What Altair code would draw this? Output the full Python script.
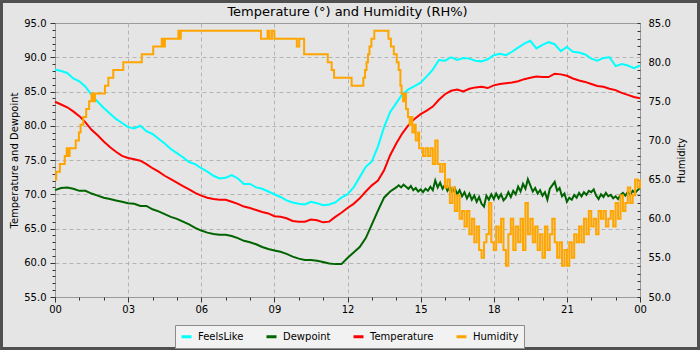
import altair as alt
import numpy as np
import pandas as pd

SERIES = ["FeelsLike", "Dewpoint", "Temperature", "Humidity"]
COLORS = ["#00ffff", "#006400", "#ff0000", "#ffa500"]
TITLE = "Temperature (°) and Humidity (RH%)"

# 15-minute readings from 00:00 to the following 00:00
TEMPERATURE = [
    83.5, 83.1, 82.7, 82.1, 81.4, 80.5, 79.4, 78.6, 77.7, 76.9, 76.2, 75.6,
    75.3, 75.1, 74.9, 74.4, 73.8, 73.3, 72.7, 72.2, 71.7, 71.2, 70.7, 70.2,
    69.8, 69.5, 69.3, 69.2, 69.2, 68.9, 68.6, 68.2, 68.0, 67.7, 67.4, 67.2,
    66.8, 66.7, 66.5, 66.1, 66.0, 66.0, 66.3, 66.2, 65.9, 66.0, 66.7, 67.3,
    68.0, 68.6, 69.4, 70.4, 71.3, 72.0, 73.5, 75.7, 77.4, 78.9, 80.1, 81.0,
    81.7, 82.2, 82.8, 83.8, 84.6, 85.1, 85.3, 85.0, 85.4, 85.6, 85.7, 85.5,
    85.9, 86.1, 86.2, 86.3, 86.5, 86.8, 87.0, 87.2, 87.1, 87.1, 87.6, 87.5,
    87.3, 86.9, 86.6, 86.4, 86.1, 85.8, 85.7, 85.4, 85.2, 84.8, 84.5, 84.2,
    84.0,
]
FEELS_LIKE = [
    88.2, 88.0, 87.7, 86.9, 86.5, 85.7, 84.5, 83.5, 82.6, 81.8, 81.0, 80.4,
    79.8, 79.6, 80.0, 79.2, 78.8, 78.1, 77.4, 76.6, 76.0, 75.4, 74.7, 74.4,
    73.8, 73.3, 72.7, 72.3, 72.4, 72.8, 72.3, 71.5, 71.5, 71.0, 70.8, 70.4,
    70.0, 69.6, 69.1, 68.8, 68.6, 68.5, 68.9, 68.7, 68.4, 68.5, 68.8, 69.5,
    70.0, 71.0, 72.5, 74.0, 74.8, 77.0, 79.8, 82.0, 83.3, 84.6, 85.3, 85.8,
    86.3, 87.2, 88.2, 89.6, 89.5, 90.0, 89.6, 89.9, 89.8, 89.5, 89.4, 89.7,
    90.3, 90.5, 90.3, 90.8, 91.4, 92.0, 92.4, 91.3, 91.8, 92.2, 91.9, 90.9,
    91.5, 90.8, 90.7, 90.4, 89.8, 89.5, 89.9, 90.0, 88.7, 89.0, 88.8, 88.4,
    88.8,
]
# dewpoint: 15-minute readings 00:00-14:00, then 6-minute readings 14:06-24:00
DEWPOINT_EARLY = [
    70.6, 70.9, 71.0, 70.8, 70.5, 70.5, 70.1, 69.8, 69.5, 69.3, 69.1, 68.9,
    68.7, 68.6, 68.3, 68.3, 67.8, 67.5, 67.1, 66.7, 66.4, 66.0, 65.6, 65.1,
    64.7, 64.4, 64.2, 64.1, 64.1, 63.9, 63.6, 63.2, 63.0, 62.7, 62.3, 62.0,
    61.8, 61.6, 61.3, 60.9, 60.6, 60.4, 60.4, 60.3, 60.1, 59.9, 59.8, 59.8,
    60.7, 61.5, 62.3, 63.6, 65.6, 67.6, 69.5, 70.4, 71.0,
]
DEWPOINT_LATE = [
    71.3, 71.0, 71.4, 71.1, 70.8, 71.2, 70.6, 70.9, 70.4, 70.7,
    70.3, 70.8, 70.5, 71.1, 70.6, 72.0, 71.0, 71.7, 70.8, 71.4,
    70.5, 71.1, 70.3, 70.9, 70.0, 70.6, 69.7, 70.3, 69.4, 70.1,
    69.2, 69.8, 68.9, 69.6, 68.6, 68.2, 69.8, 69.2, 70.0, 69.3,
    70.1, 69.4, 70.0, 69.1, 69.5, 70.3, 69.6, 70.5, 70.0, 71.1,
    70.4, 71.5, 70.8, 72.2, 71.3, 70.4, 70.9, 70.1, 70.6, 69.8,
    70.3, 69.2, 70.8, 71.3, 71.8, 70.5, 70.9, 69.7, 70.1, 68.9,
    69.5, 69.2, 69.9, 69.5, 70.2, 69.7, 70.3, 69.9, 70.5, 70.3,
    70.7, 69.8, 69.3, 70.0, 69.6, 70.2, 69.7, 69.9, 69.4, 69.7,
    69.3, 69.9, 70.2, 69.8, 70.3, 69.9, 70.5, 70.2, 70.6, 70.9,
]
# humidity: the hours at which the reading changed, up to 15:00
HUMIDITY_CHANGE_HOURS = [
    0.00, 0.05, 0.20, 0.40, 0.48, 0.55, 0.60, 0.85, 0.98, 1.05, 1.16, 1.28,
    1.40, 1.50, 1.58, 1.64, 2.05, 2.19, 2.39, 2.80, 3.56, 4.03, 4.38, 4.43,
    4.51, 5.06, 5.10, 5.16, 8.45, 8.72, 8.80, 8.90, 9.00, 9.92, 10.02, 10.22,
    11.19, 11.35, 11.45, 12.17, 12.65, 12.72, 12.78, 12.84, 12.90, 12.98, 13.10, 13.68,
    13.78, 13.90, 14.02, 14.10, 14.17, 14.22, 14.28, 14.35, 14.40, 14.48, 14.55, 14.62,
    14.66, 14.75, 14.80, 14.90, 14.94,
]
HUMIDITY_CHANGE_VALUES = [
    65, 66, 67, 68, 69, 68, 69, 70, 71, 72, 73, 74,
    75, 76, 75, 76, 77, 78, 79, 80, 81, 82, 83, 82,
    83, 84, 83, 84, 83, 84, 83, 84, 83, 82, 83, 81,
    80, 79, 78, 77, 78, 79, 80, 81, 82, 83, 84, 83,
    82, 81, 80, 79, 77, 76, 75, 76, 74, 73, 72, 73,
    71, 72, 70, 71, 69,
]
# humidity: 6-minute readings 15:00-24:00
HUMIDITY_LATE = [
    69, 68, 69, 68, 69, 67, 70, 67, 66, 67,
    64, 65, 62, 64, 61, 63, 60, 61, 59, 61,
    58, 60, 57, 59, 56, 55, 57, 58, 62, 57,
    56, 59, 57, 60, 56, 54, 58, 60, 56, 59,
    57, 60, 56, 62, 58, 60, 57, 59, 56, 58,
    55, 59, 56, 58, 60, 57, 55, 57, 54, 56,
    54, 57, 55, 58, 57, 59, 57, 60, 58, 61,
    59, 60, 58, 61, 60, 61, 59, 60, 61, 59,
    62, 60, 63, 61, 62, 64, 62, 63, 65, 64,
    65,
]

HOUR_TICKS = list(range(0, 25))
TEMP_TICKS = list(range(55, 96))
HUM_TICKS = list(range(50, 86))

FONT = "DejaVu Sans"
PLOT_W, PLOT_H = 585, 274

quarter = np.arange(len(TEMPERATURE)) * 0.25
dew_hours = np.concatenate([
    np.arange(len(DEWPOINT_EARLY)) * 0.25,
    np.round(14.1 + np.arange(len(DEWPOINT_LATE)) * 0.1, 2),
])
hum_hours = np.concatenate([
    np.array(HUMIDITY_CHANGE_HOURS),
    np.round(15.0 + np.arange(len(HUMIDITY_LATE)) * 0.1, 2),
])

feels_df = pd.DataFrame({"hour": quarter, "value": FEELS_LIKE, "series": "FeelsLike"})
dew_df = pd.DataFrame({"hour": dew_hours, "value": DEWPOINT_EARLY + DEWPOINT_LATE, "series": "Dewpoint"})
temp_df = pd.DataFrame({"hour": quarter, "value": TEMPERATURE, "series": "Temperature"})
hum_df = pd.DataFrame({"hour": hum_hours, "value": HUMIDITY_CHANGE_VALUES + HUMIDITY_LATE, "series": "Humidity"})


def major_every(step, lo=None, hi=None):
    test = f"datum.value % {step} === 0"
    if lo is not None:
        test += f" && datum.value > {lo} && datum.value < {hi}"
    return test


x_axis = alt.Axis(
    values=HOUR_TICKS,
    labelExpr="datum.value % 3 === 0 ? ((datum.value % 24) < 10 ? '0' : '') + (datum.value % 24) : ''",
    tickSize={"condition": {"test": major_every(3), "value": 5}, "value": 3},
    grid=True,
    gridOpacity={"condition": {"test": major_every(3, 0, 24), "value": 1}, "value": 0},
    gridDash=[4, 3],
    gridColor="#b4b4b4",
    domain=False,
    labelPadding=2,
    labelFlush=False,
    labelOverlap=False,
    title=None,
)
x_enc = alt.X("hour:Q", scale=alt.Scale(domain=[0, 24], nice=False, zero=False), axis=x_axis)

left_axis = alt.Axis(
    values=TEMP_TICKS,
    labelExpr="datum.value % 5 === 0 ? format(datum.value, '.1f') : ''",
    tickSize={"condition": {"test": major_every(5), "value": 5}, "value": 3},
    grid=True,
    gridOpacity={"condition": {"test": major_every(5, 55, 95), "value": 1}, "value": 0},
    gridDash=[4, 3],
    gridColor="#b4b4b4",
    domain=False,
    labelPadding=4,
    labelFlush=False,
    labelOverlap=False,
    title="Temperature and Dewpoint",
    titlePadding=4,
)
left_y = alt.Y("value:Q", scale=alt.Scale(domain=[55, 95], nice=False, zero=False), axis=left_axis)

right_axis = alt.Axis(
    orient="right",
    values=HUM_TICKS,
    labelExpr="datum.value % 5 === 0 ? format(datum.value, '.1f') : ''",
    tickSize=3,
    offset=-3,
    grid=False,
    domain=False,
    labelPadding=8,
    labelFlush=False,
    labelOverlap=False,
    title="Humidity",
    titleAngle=270,
    titlePadding=16,
)
right_y = alt.Y("value:Q", scale=alt.Scale(domain=[50, 85], nice=False, zero=False), axis=right_axis)

color_enc = alt.Color(
    "series:N",
    scale=alt.Scale(domain=SERIES, range=COLORS),
    legend=alt.Legend(
        title=None,
        orient="none",
        legendX=120,
        legendY=302,
        direction="horizontal",
        columns=4,
        symbolType="stroke",
        symbolStrokeWidth=3,
        symbolSize=100,
        labelFont=FONT,
        labelFontSize=10,
        labelColor="#000000",
        labelOffset=5,
        columnPadding=16,
        padding=5,
        fillColor="#f2f2f2",
        strokeColor="#8c8c8c",
        cornerRadius=0,
    ),
)


def temp_line(df):
    return alt.Chart(df).mark_line(strokeWidth=2).encode(x=x_enc, y=left_y, color=color_enc)


left = alt.layer(temp_line(feels_df), temp_line(dew_df), temp_line(temp_df))

humidity = alt.Chart(hum_df).mark_line(strokeWidth=2, interpolate="step-after").encode(
    x=x_enc, y=right_y, color=color_enc
)

one_row = pd.DataFrame({"k": [0]})

# chart title, centred over the plot area
heading = alt.Chart(one_row).mark_text(
    text=TITLE, font=FONT, fontSize=13, color="#000000", align="center", baseline="alphabetic"
).encode(x=alt.value(PLOT_W / 2), y=alt.value(-7.5))

# outer border of the figure
frame = alt.Chart(one_row).mark_rect(
    fillOpacity=0, stroke="#505050", strokeWidth=3
).encode(
    x=alt.value(-53.5), x2=alt.value(643.5), y=alt.value(-21.5), y2=alt.value(325.5)
)

chart = (
    alt.layer(left, humidity, heading, frame)
    .resolve_scale(y="independent")
    .properties(
        width=PLOT_W,
        height=PLOT_H,
        padding={"left": 55, "top": 23, "right": 60, "bottom": 53},
        autosize=alt.AutoSizeParams(type="none"),
        background="#e5e5e5",
    )
    .configure_view(stroke="#9a9a9a", strokeWidth=1)
    .configure_axis(
        labelFont=FONT,
        labelFontSize=10,
        labelColor="#000000",
        titleFont=FONT,
        titleFontSize=10,
        titleFontWeight="normal",
        titleColor="#000000",
        tickColor="#333333",
    )
)

chart.save("out.html", embed_options={"renderer": "svg", "actions": False})
